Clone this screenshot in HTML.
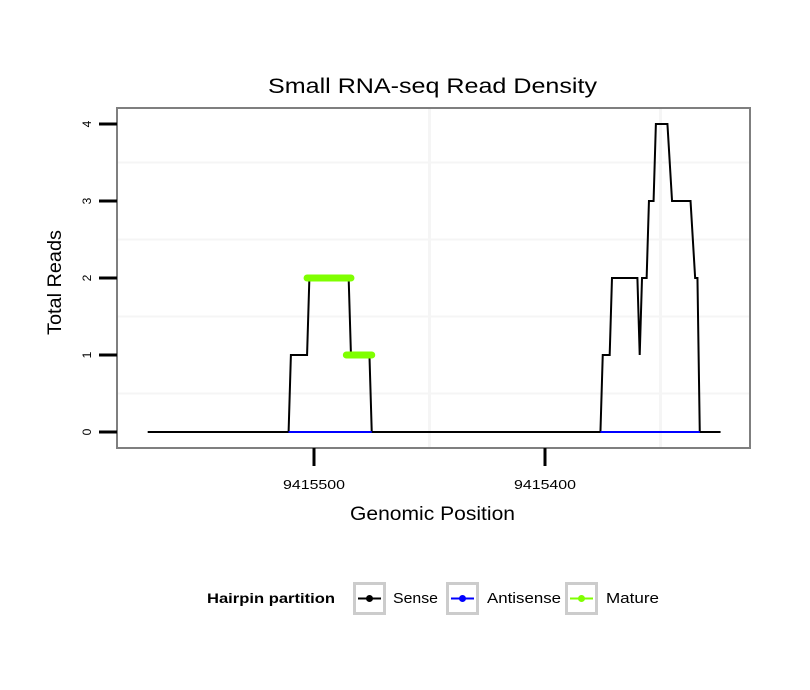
<!DOCTYPE html>
<html><head><meta charset="utf-8"><style>
body{margin:0;background:#fff}
svg{display:block;font-family:"Liberation Sans",sans-serif}
</style></head><body>
<svg id="c" width="810" height="690"></svg>
<script>
const tickPositions=[9415500,9415400];
const tickLabels=["9415500","9415400"];
const yTicks=[0,1,2,3,4];
const senseX=[9415572,9415511,9415510,9415503,9415502,9415485,9415484,9415476,9415475,9415376,9415375,9415372,9415371,9415360,9415359,9415358,9415356,9415355,9415353,9415352,9415347,9415345,9415337,9415335,9415334,9415333,9415324];
const senseY=[0,0,1,1,2,2,1,1,0,0,1,1,2,2,1,2,2,3,3,4,4,3,3,2,2,0,0];
const antiSegments=[[9415511,9415475],[9415376,9415333]];
const matureX=[[9415503,9415484],[9415486,9415475]];
const matureY=[2,1];

const NS="http://www.w3.org/2000/svg";
const svg=document.getElementById('c');
const sx=p=>314+(9415500-p)*2.31;
const sy=v=>432-v*77;
function el(t,a,parent){const e=document.createElementNS(NS,t);for(const k in a)e.setAttribute(k,a[k]);(parent||svg).appendChild(e);return e;}

const title=el('text',{x:268,y:93,'font-size':21,fill:'#000',textLength:329,lengthAdjust:'spacingAndGlyphs'});
title.textContent='Small RNA-seq Read Density';



const panel=el('rect',{x:117,y:108,width:633,height:340,fill:'#fff'});


[0.5,1.5,2.5,3.5].forEach(v=>{const g=el('line',{x1:117,x2:750,y1:sy(v),y2:sy(v),stroke:'#f5f5f5','stroke-width':2});

});
[9415450,9415350].forEach(p=>{const g=el('line',{x1:sx(p),x2:sx(p),y1:108,y2:448,stroke:'#f5f5f5','stroke-width':3});

});

let d=senseX.map((p,i)=>(i?'L':'M')+sx(p)+','+sy(senseY[i])).join(' ');
const sl=el('path',{d:d,fill:'none',stroke:'#000','stroke-width':2,'stroke-linejoin':'miter'});


antiSegments.forEach(s=>{const a=el('line',{x1:sx(s[0]),x2:sx(s[1]),y1:sy(0),y2:sy(0),stroke:'#0000ff','stroke-width':2});

});
matureX.forEach((s,i)=>{const m=el('line',{x1:sx(s[0]),x2:sx(s[1]),y1:sy(matureY[i]),y2:sy(matureY[i]),stroke:'#7fff00','stroke-width':7,'stroke-linecap':'round'});

});

const border=el('rect',{x:117,y:108,width:633,height:340,fill:'none',stroke:'#7f7f7f','stroke-width':2});



yTicks.forEach(v=>{const t=el('line',{x1:99,x2:117,y1:sy(v),y2:sy(v),stroke:'#000','stroke-width':3});


const l=el('text',{x:0,y:0,transform:`translate(91,${sy(v)}) rotate(-90)`,'text-anchor':'middle','font-size':12});
l.textContent=v;

});
tickPositions.forEach((p,i)=>{const t=el('line',{x1:sx(p),x2:sx(p),y1:448,y2:466,stroke:'#000','stroke-width':3});


const l=el('text',{x:sx(p)-31,y:489,'font-size':13,textLength:62,lengthAdjust:'spacingAndGlyphs'});
l.textContent=tickLabels[i];

});

const xt=el('text',{x:350,y:520,'font-size':19,textLength:165,lengthAdjust:'spacingAndGlyphs'});
xt.textContent='Genomic Position';


const yt=el('text',{x:0,y:0,transform:'translate(61,335) rotate(-90)','font-size':19,textLength:105,lengthAdjust:'spacingAndGlyphs'});
yt.textContent='Total Reads';



const lt=el('text',{x:207,y:603,'font-size':14,'font-weight':'bold',textLength:128,lengthAdjust:'spacingAndGlyphs'});
lt.textContent='Hairpin partition';


const leg=[["Sense","#000",353,393,45],["Antisense","#0000ff",446,487,74],["Mature","#7fff00",565,606,53]];
leg.forEach(k=>{
const b=el('rect',{x:k[2]+1.5,y:583.5,width:30,height:30,fill:'#fff',stroke:'#cccccc','stroke-width':3});


el('line',{x1:k[2]+5,x2:k[2]+28,y1:598.5,y2:598.5,stroke:k[1],'stroke-width':2});
el('circle',{cx:k[2]+16.5,cy:598.5,r:3.5,fill:k[1]});
const t=el('text',{x:k[3],y:603,'font-size':15,textLength:k[4],lengthAdjust:'spacingAndGlyphs'});
t.textContent=k[0];

});
</script>
</body></html>
